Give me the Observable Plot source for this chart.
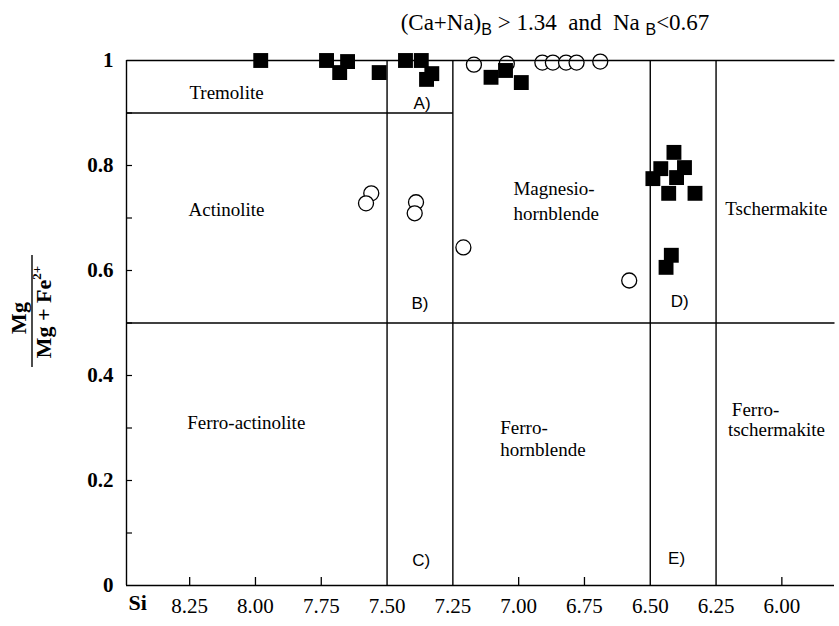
<!DOCTYPE html>
<html><head><meta charset="utf-8">
<script src="https://cdn.jsdelivr.net/npm/d3@7"></script>
<script src="https://cdn.jsdelivr.net/npm/@observablehq/plot@0.6"></script>
<style>body{margin:0;background:#fff}</style>
</head><body><div id="chart"></div>
<script>
// ---- data ----
const xTicks = [8.25, 8.00, 7.75, 7.50, 7.25, 7.00, 6.75, 6.50, 6.25, 6.00];
const xTickMarks = [8.25, 8.00, 7.75, 7.00, 6.75, 6.00];
const yTicks = [0, 0.2, 0.4, 0.6, 0.8, 1];
const yTickMarks = [0.1, 0.2, 0.3, 0.4, 0.5, 0.6, 0.7, 0.8, 0.9];

// filled squares
const filledSi = [7.98, 7.73, 7.68, 7.65, 7.53, 7.43, 7.37, 7.33, 7.35, 7.105, 7.05, 6.99,
                  6.41, 6.46, 6.37, 6.49, 6.40, 6.43, 6.33, 6.42, 6.44];
const filledMg = [1.0, 1.0, 0.977, 0.998, 0.977, 1.0, 1.0, 0.975, 0.964, 0.968, 0.981, 0.958,
                  0.825, 0.794, 0.796, 0.775, 0.777, 0.747, 0.747, 0.629, 0.606];
// open circles
const openSi = [7.17, 7.045, 6.91, 6.87, 6.82, 6.78, 6.69, 7.56, 7.58, 7.39, 7.395, 7.21, 6.58];
const openMg = [0.992, 0.994, 0.996, 0.996, 0.996, 0.996, 0.998, 0.747, 0.728, 0.730, 0.709, 0.644, 0.581];

// classification boundaries [Si1, Mg1, Si2, Mg2]
const boundaries = [
  [8.49, 1.0, 5.8, 1.0],
  [8.49, 0.9, 7.25, 0.9],
  [8.49, 0.5, 5.8, 0.5],
  [7.50, 0, 7.50, 1.0],
  [7.25, 0, 7.25, 1.0],
  [6.50, 0, 6.50, 1.0],
  [6.25, 0, 6.25, 1.0]
];

// field names (centred)
const fieldNames = ["Tremolite", "Actinolite", "Ferro-actinolite"];
const fieldSi = [8.11, 8.11, 8.035];
const fieldMg = [0.939, 0.716, 0.310];
// field names (left aligned)
const fieldNames2 = ["Magnesio-", "hornblende", "Tschermakite", "Ferro-", "hornblende", "Ferro-", "tschermakite"];
const fieldSi2 = [7.02, 7.02, 6.215, 7.07, 7.07, 6.19, 6.205];
const fieldMg2 = [0.755, 0.707, 0.717, 0.300, 0.258, 0.335, 0.296];
// sub-field letters
const letters = ["A)", "B)", "C)", "D)", "E)"];
const letterSi = [7.367, 7.375, 7.37, 6.388, 6.40];
const letterMg = [0.918, 0.537, 0.048, 0.541, 0.052];

// ---- build ----
const filled = filledSi.map((s, i) => ({si: s, mg: filledMg[i]}));
const open = openSi.map((s, i) => ({si: s, mg: openMg[i]}));
const segs = boundaries.map(([a, b, c, d]) => ({a, b, c, d}));
const f1 = fieldNames.map((t, i) => ({t, si: fieldSi[i], mg: fieldMg[i]}));
const f2 = fieldNames2.map((t, i) => ({t, si: fieldSi2[i], mg: fieldMg2[i]}));
const lt = letters.map((t, i) => ({t, si: letterSi[i], mg: letterMg[i]}));

const W = 839, H = 626, mL = 126, mR = 5, mT = 60, mB = 41;
const serif = "'Liberation Serif', 'Times New Roman', serif";
const sans = "'Liberation Sans', Arial, sans-serif";

const chart = Plot.plot({
  width: W, height: H,
  marginLeft: mL, marginRight: mR, marginTop: mT, marginBottom: mB,
  x: {domain: [8.49, 5.8]},
  y: {domain: [0, 1]},
  style: {background: "white", color: "black", fontFamily: serif},
  marks: [
    Plot.axisX({ticks: xTicks, tickSize: 0, tickPadding: 13, tickFormat: d3.format(".2f"),
      fontSize: 21, fontFamily: serif, label: null}),
    Plot.axisY({ticks: yTicks, tickSize: 0, tickPadding: 13,
      tickFormat: d => (d === 0 || d === 1) ? String(d) : d.toFixed(1),
      fontSize: 21, fontFamily: serif, fontWeight: "bold", label: null}),
    Plot.tickX(xTickMarks, {x: d => d, insetTop: (H - mT - mB) - 8, strokeWidth: 1.3}),
    Plot.tickY(yTickMarks, {y: d => d, insetRight: (W - mL - mR) - 6, strokeWidth: 1.2}),
    Plot.dot(open, {x: "si", y: "mg", r: 7.5, fill: "white", stroke: "black", strokeWidth: 1.3}),
    Plot.link(segs, {x1: "a", y1: "b", x2: "c", y2: "d", stroke: "black", strokeWidth: 1.4}),
    Plot.ruleX([8.49], {y1: 0, y2: 1, strokeWidth: 1.4}),
    Plot.ruleY([0], {x1: 8.49, x2: 5.8, strokeWidth: 1.4}),
    Plot.dot(filled, {x: "si", y: "mg", symbol: "square", r: 8.4, fill: "black", stroke: "none"}),
    Plot.text(f1, {x: "si", y: "mg", text: "t", fontFamily: serif, fontSize: 19, textAnchor: "middle"}),
    Plot.text(f2, {x: "si", y: "mg", text: "t", fontFamily: serif, fontSize: 19, textAnchor: "start"}),
    Plot.text(lt, {x: "si", y: "mg", text: "t", fontFamily: sans, fontSize: 17, textAnchor: "middle"}),
    Plot.text(["Si"], {frameAnchor: "bottom-left", text: d => d, dx: 2, dy: 24,
      fontFamily: serif, fontSize: 22, fontWeight: "bold"})
  ]
});
document.getElementById("chart").appendChild(chart);

const svg = d3.select(chart);
svg.selectAll("g[aria-label='x-axis tick label'], g[aria-label='y-axis tick label']")
  .style("font-family", serif).style("font-variant", "normal");
svg.selectAll("g[aria-label='x-axis tick label'] text, g[aria-label='y-axis tick label'] text")
  .style("font-family", serif).style("font-variant", "normal");

// title
const t = svg.append("text").attr("x", 555).attr("y", 30).attr("text-anchor", "middle")
  .style("font-family", serif).style("font-size", "23px").style("white-space", "pre")
  .attr("fill", "black");
t.append("tspan").text("(Ca+Na)");
t.append("tspan").attr("dy", 5).style("font-family", sans).style("font-size", "16px").text("B");
t.append("tspan").attr("dy", -5).text(" > 1.34  and  Na ");
t.append("tspan").attr("dy", 5).style("font-family", sans).style("font-size", "16px").text("B");
t.append("tspan").attr("dy", -5).text("<0.67");

// y label as a fraction
const g = svg.append("g").attr("transform", "translate(32,312) rotate(-90)")
  .style("font-family", serif).style("font-weight", "bold").attr("fill", "black");
g.append("text").attr("text-anchor", "middle").attr("x", -6).attr("y", -6)
  .style("font-size", "22px").text("Mg");
g.append("line").attr("x1", -55).attr("x2", 57).attr("y1", 0).attr("y2", 0)
  .attr("stroke", "black").attr("stroke-width", 1.4);
const den = g.append("text").attr("text-anchor", "middle").attr("y", 19).style("font-size", "22px");
den.append("tspan").text("Mg + Fe");
den.append("tspan").attr("dy", -10).style("font-size", "13px").text("2+");
</script>
</body></html>
